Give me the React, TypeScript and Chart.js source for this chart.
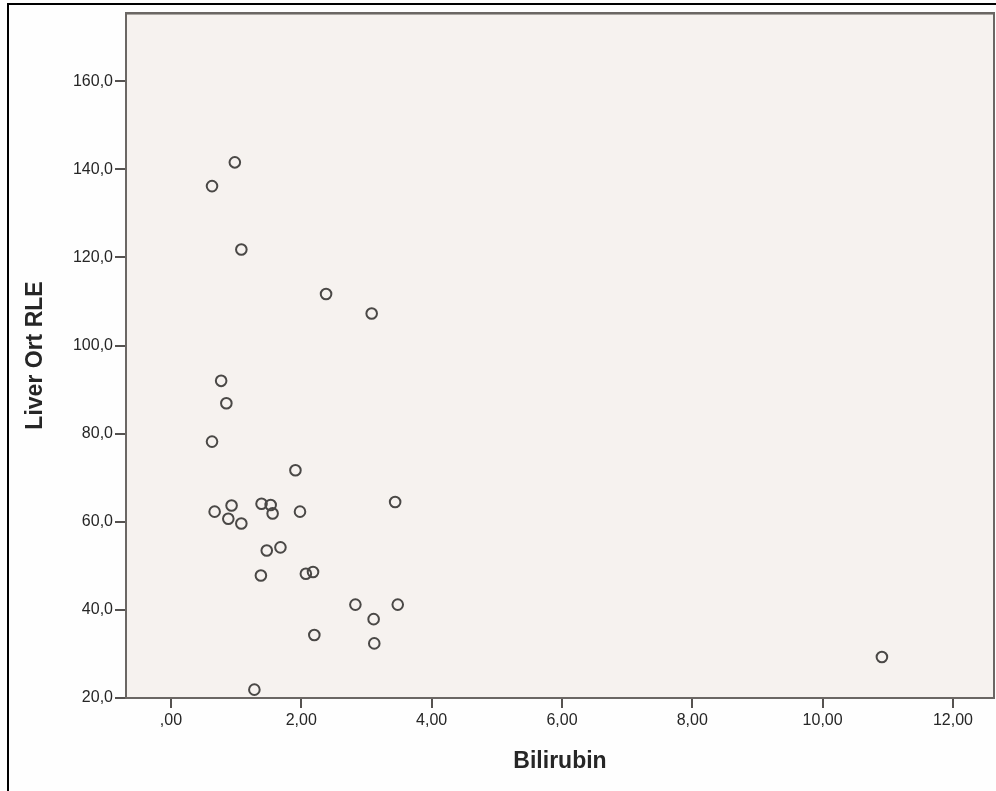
import React, { useEffect, useRef } from "react";
import { Chart, registerables } from "chart.js";

Chart.register(...registerables);

// Bilirubin (x) and Liver Ort RLE (y)
const bilirubin = [
  0.98, 0.63, 1.08, 2.38, 3.08, 0.77, 0.85, 0.63, 1.91, 3.44,
  1.39, 1.53, 1.56, 0.93, 0.67, 0.88, 1.08, 1.98, 1.47, 1.68,
  1.38, 2.07, 2.18, 2.83, 3.48, 3.11, 3.12, 2.2, 1.28, 10.91,
];
const liverOrtRLE = [
  141.6, 136.2, 121.8, 111.7, 107.3, 92.0, 86.9, 78.2, 71.7, 64.5,
  64.1, 63.8, 61.9, 63.7, 62.3, 60.7, 59.6, 62.3, 53.5, 54.2,
  47.8, 48.2, 48.6, 41.2, 41.2, 37.9, 32.4, 34.3, 21.9, 29.3,
];

const xTickValues = [0, 2, 4, 6, 8, 10, 12];
const xTickLabels = [",00", "2,00", "4,00", "6,00", "8,00", "10,00", "12,00"];
const yTickValues = [20, 40, 60, 80, 100, 120, 140, 160];
const yTickLabels = ["20,0", "40,0", "60,0", "80,0", "100,0", "120,0", "140,0", "160,0"];

const xTitle = "Bilirubin";
const yTitle = "Liver Ort RLE";

const FONT = "'Liberation Sans', Arial, sans-serif";

const framePlugin = {
  id: "frame",
  beforeDraw(chart: any) {
    const { ctx, chartArea: a } = chart;
    ctx.save();
    ctx.fillStyle = "#f6f2ef";
    ctx.fillRect(a.left, a.top, a.right - a.left, a.bottom - a.top);
    ctx.restore();
  },
  afterDraw(chart: any) {
    const { ctx, chartArea: a } = chart;
    ctx.save();
    ctx.strokeStyle = "#6b6764";
    ctx.lineWidth = 2;
    ctx.strokeRect(a.left, a.top, a.right - a.left, a.bottom - a.top);
    ctx.strokeStyle = "#aaa6a2";
    ctx.lineWidth = 1;
    ctx.beginPath();
    ctx.moveTo(a.left + 1, a.top + 1.5);
    ctx.lineTo(a.right - 1, a.top + 1.5);
    ctx.stroke();
    ctx.restore();
  },
};

export default function App() {
  const ref = useRef<HTMLCanvasElement | null>(null);

  useEffect(() => {
    if (!ref.current) return;
    const points = bilirubin.map((x, i) => ({ x, y: liverOrtRLE[i] }));
    const chart = new Chart(ref.current, {
      type: "scatter",
      data: {
        datasets: [
          {
            data: points,
            pointRadius: 5.3,
            pointHoverRadius: 5.3,
            pointBorderWidth: 2,
            pointBorderColor: "#4a4846",
            pointBackgroundColor: "rgba(0,0,0,0)",
          },
        ],
      },
      options: {
        animation: false,
        responsive: false,
        events: [],
        layout: {
          autoPadding: false,
          padding: { top: 13, right: 2, left: 0, bottom: 0 },
        },
        plugins: {
          legend: { display: false },
          tooltip: { enabled: false },
        },
        scales: {
          x: {
            type: "linear",
            min: -0.69,
            max: 12.63,
            afterFit: (s: any) => {
              s.height = 93;
              s.paddingLeft = 0;
              s.paddingRight = 0;
            },
            afterBuildTicks: (s: any) => {
              s.ticks = xTickValues.map((v) => ({ value: v }));
            },
            ticks: {
              includeBounds: false,
              padding: 3,
              color: "#262626",
              font: { family: FONT, size: 16 },
              callback: (v: any) => {
                const i = xTickValues.indexOf(Number(v));
                return i >= 0 ? xTickLabels[i] : "";
              },
            },
            grid: {
              display: true,
              drawOnChartArea: false,
              drawTicks: true,
              tickLength: 10,
              color: "#555250",
              lineWidth: 2,
            },
            border: { display: false },
            title: {
              display: true,
              text: xTitle,
              color: "#262626",
              font: { family: FONT, size: 23, weight: "bold", lineHeight: 1 },
              padding: { top: 0, bottom: 18 },
            },
          },
          y: {
            type: "linear",
            min: 20,
            max: 175.5,
            afterFit: (s: any) => {
              s.width = 126;
              s.paddingTop = 0;
              s.paddingBottom = 0;
            },
            afterBuildTicks: (s: any) => {
              s.ticks = yTickValues.map((v) => ({ value: v }));
            },
            ticks: {
              includeBounds: false,
              padding: 2,
              color: "#262626",
              font: { family: FONT, size: 16 },
              callback: (v: any) => {
                const i = yTickValues.indexOf(Number(v));
                return i >= 0 ? yTickLabels[i] : "";
              },
            },
            grid: {
              display: true,
              drawOnChartArea: false,
              drawTicks: true,
              tickLength: 11,
              color: "#555250",
              lineWidth: 2,
            },
            border: { display: false },
            title: {
              display: true,
              text: yTitle,
              color: "#262626",
              font: { family: FONT, size: 23, weight: "bold", lineHeight: 1 },
              padding: { top: 24, bottom: 0 },
            },
          },
        },
      },
      plugins: [framePlugin],
    });
    return () => chart.destroy();
  }, []);

  return (
    <div
      style={{
        position: "fixed",
        left: 0,
        top: 0,
        width: 996,
        height: 791,
        background: "#fefefe",
        overflow: "hidden",
      }}
    >
      <div
        style={{
          position: "absolute",
          left: 7,
          top: 3,
          width: 1100,
          height: 900,
          borderTop: "2px solid #000",
          borderLeft: "2px solid #000",
        }}
      />
      <canvas
        ref={ref}
        width={996}
        height={791}
        style={{ position: "absolute", left: 0, top: 0, width: 996, height: 791 }}
      />
    </div>
  );
}
